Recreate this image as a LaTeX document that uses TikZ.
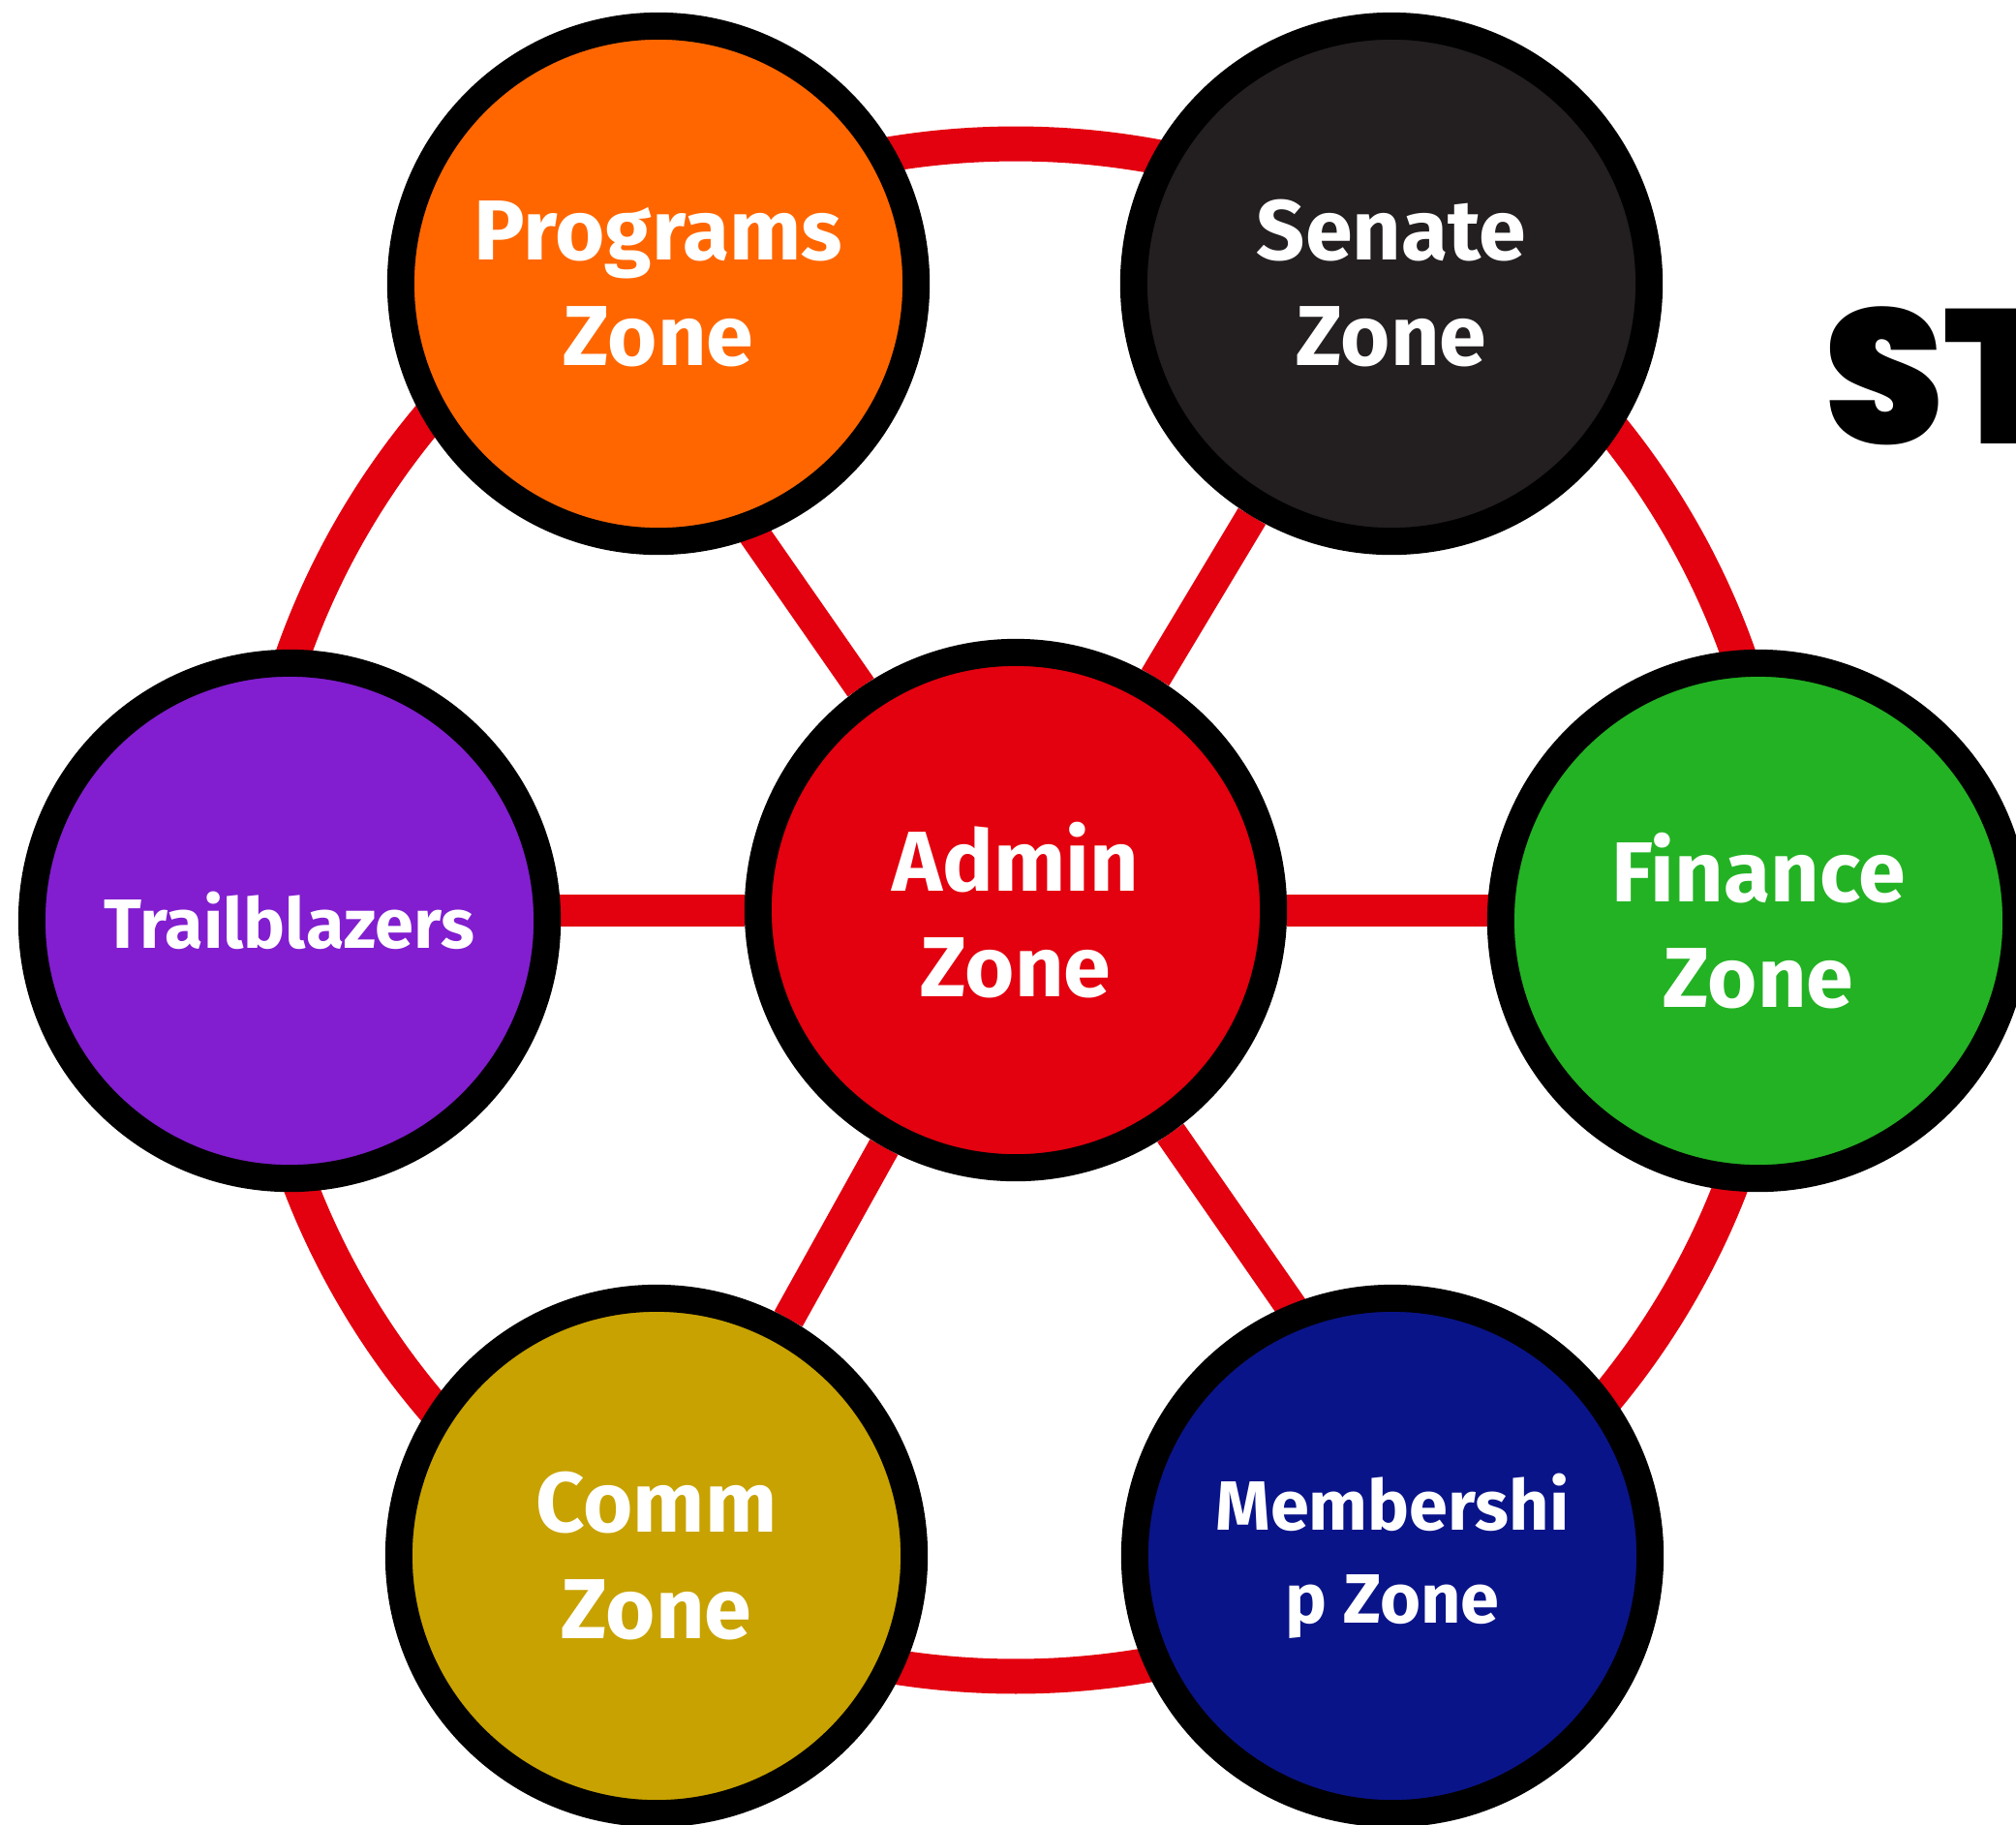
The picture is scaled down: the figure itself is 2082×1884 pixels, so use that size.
\documentclass[tikz,border=0pt]{standalone}
\usepackage{fontspec}
\setmainfont{Fira Sans}
\IfFontExistsTF{Poppins Black}{\newfontfamily\stfont{Poppins Black}}{\newfontfamily\stfont{DejaVu Sans Bold}}
\usetikzlibrary{backgrounds}

\definecolor{zonered}{HTML}{E3000F}
\definecolor{zoneorange}{HTML}{FF6600}
\definecolor{zoneblack}{HTML}{231F20}
\definecolor{zonepurple}{HTML}{821ECF}
\definecolor{zonegreen}{HTML}{23B223}
\definecolor{zonegold}{HTML}{C8A200}
\definecolor{zonenavy}{HTML}{0A1489}

\tikzstyle{zone}=[circle,draw=black,line width=0.28cm,minimum size=5.32cm,inner sep=0pt,text=white,align=center,font=\bfseries\fontsize{25}{31}\selectfont]
\tikzstyle{small}=[font=\bfseries\fontsize{20.5}{27.3}\selectfont]
\tikzstyle{spoke}=[draw,zonered,line width=0.33cm]
\tikzstyle{ring}=[draw,zonered,line width=0.36cm]

\begin{document}
\begin{tikzpicture}[x=0.01cm, y=-0.01cm]
    \clip (0,0) rectangle (2082,1884);
    % First we draw the zones
    \foreach \pos/\name/\col/\txt in {{(1049,940)/admin/zonered/{Admin\\Zone}}, {(680,293)/prog/zoneorange/{Programs\\Zone}}, {(1437,293)/senate/zoneblack/{Senate\\Zone}}, {(1816,951)/finance/zonegreen/{Finance\\Zone}}, {(678,1607)/comm/zonegold/{Comm\\Zone}}}
        \node[zone, fill=\col] (\name) at \pos {\txt};
    \node[zone, small, fill=zonepurple] (trail) at (299,951) {Trailblazers};
    \node[zone, small, fill=zonenavy] (member) at (1438,1607) {Membershi\\p Zone};
    % Connect admin with every zone and draw the outer ring
    \begin{scope}[on background layer]
        \fill[white] (0,0) rectangle (2082,1884);
        \path[ring] (admin.center) circle[radius=7.91cm];
        \foreach \dest in {senate,comm}
            \path[spoke] (admin) -- (\dest);
        \foreach \dest in {finance,trail}
            \path[spoke] (admin) -- (admin.center -| \dest.center);
        \path[spoke] (admin) -- ([xshift=-0.81cm]prog.center);
        \path[spoke] (admin) -- ([xshift=0.74cm]member.center);
    \end{scope}
    \node[anchor=base west, inner sep=0pt, font=\stfont\fontsize{56}{56}\selectfont] (title) at (1884,458) {ST};
\end{tikzpicture}
\end{document}
